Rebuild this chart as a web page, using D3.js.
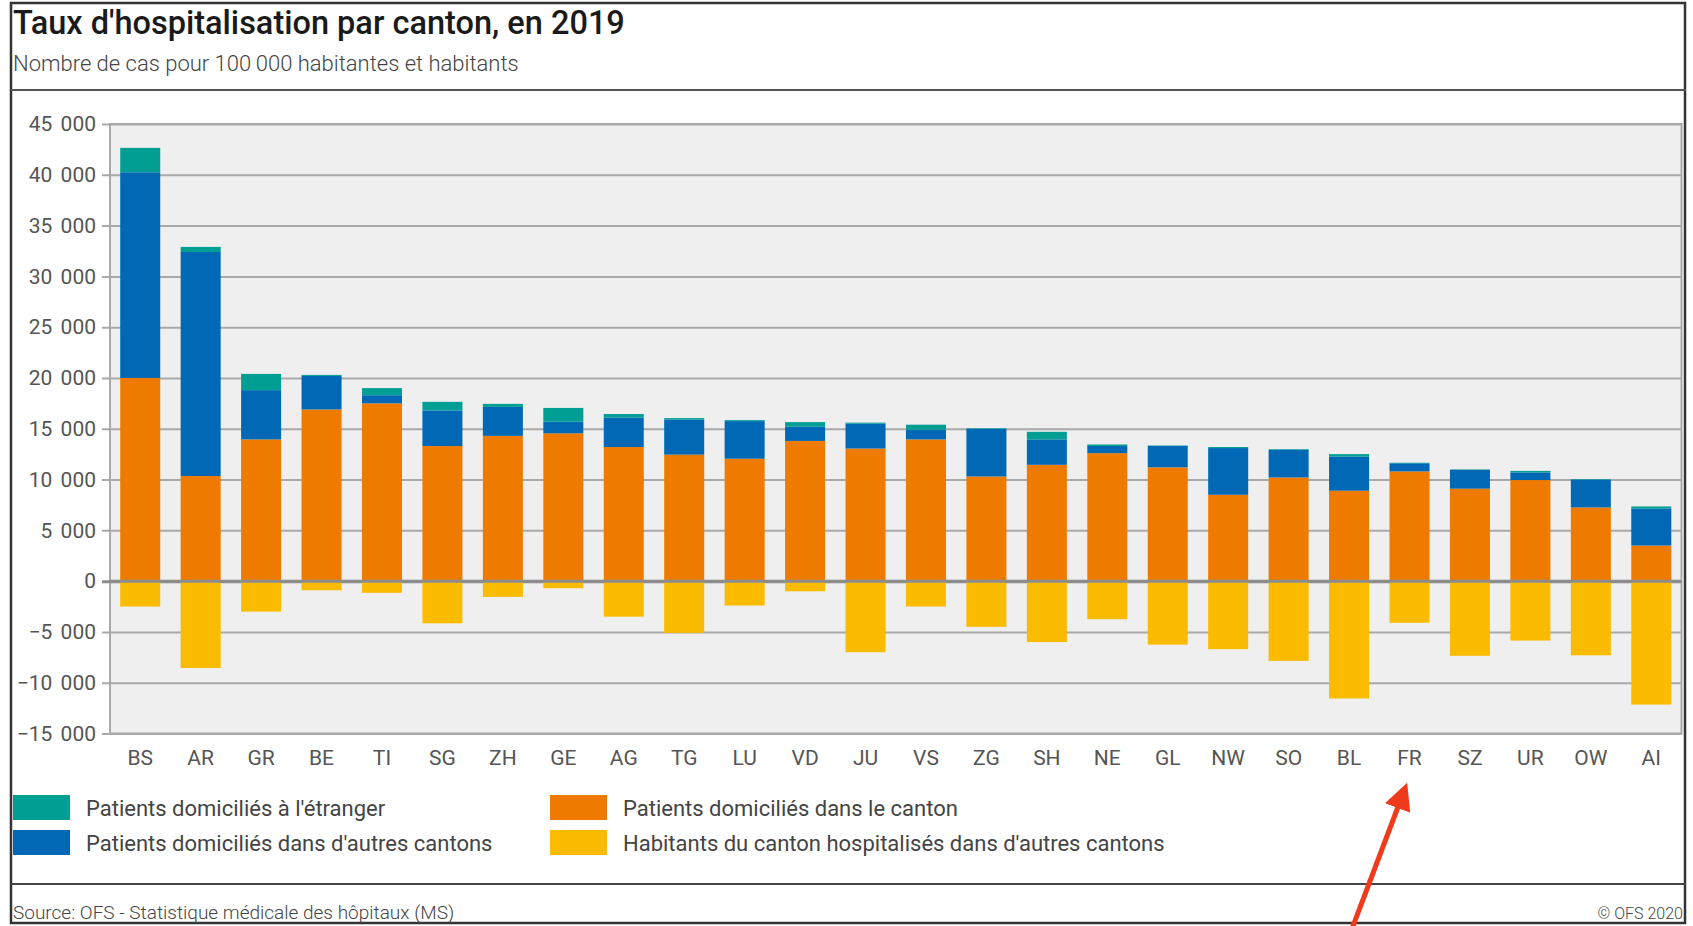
<!DOCTYPE html>
<html><head><meta charset="utf-8">
<script src="https://cdn.jsdelivr.net/npm/d3@7"></script>
<style>
html,body{margin:0;padding:0;background:#fff;}
svg{display:block;font-family:Roboto,"Noto Sans",sans-serif;}
</style></head>
<body><svg id="c" width="1693" height="926"></svg>
<script>
const cantons = ["BS","AR","GR","BE","TI","SG","ZH","GE","AG","TG","LU","VD","JU","VS","ZG","SH","NE","GL","NW","SO","BL","FR","SZ","UR","OW","AI"];
const dansCanton = [20000,10350,13950,16900,17500,13300,14300,14550,13200,12450,12050,13800,13050,13950,10300,11450,12600,11200,8500,10200,8900,10800,9100,9950,7250,3500];
const autresCantons = [20250,22050,4850,3300,800,3500,2850,1150,2900,3450,3700,1400,2450,950,4700,2500,700,2100,4600,2750,3350,800,1850,750,2750,3650];
const etranger = [2400,500,1600,100,700,850,300,1350,350,150,100,450,100,500,50,750,150,50,100,50,250,50,50,150,50,200];
const horsCanton = [-2500,-8550,-3000,-900,-1150,-4150,-1550,-700,-3500,-5100,-2400,-1000,-7000,-2500,-4500,-6000,-3750,-6250,-6700,-7850,-11550,-4100,-7350,-5850,-7300,-12150];
const yTicks = [-15000,-10000,-5000,0,5000,10000,15000,20000,25000,30000,35000,40000,45000];
const seriesKeys = ["dans","autres","etranger","hors"];
const seriesLabels = {
  etranger:"Patients domiciliés à l'étranger",
  autres:"Patients domiciliés dans d'autres cantons",
  dans:"Patients domiciliés dans le canton",
  hors:"Habitants du canton hospitalisés dans d'autres cantons"
};
const colors = {etranger:"#009e93", autres:"#0068b5", dans:"#ee7b00", hors:"#fbbb00"};

const rows = cantons.map((c,i)=>({canton:c, dans:dansCanton[i], autres:autresCantons[i], etranger:etranger[i], hors:horsCanton[i]}));

const svg = d3.select("#c");
const L = 110, R = 1681.5, T = 124, B = 733.5;

// outer frame
svg.append("rect").attr("x",11).attr("y",3).attr("width",1674).attr("height",920)
  .attr("fill","none").attr("stroke","#333").attr("stroke-width",2.5);

// title
svg.append("text").attr("x",13).attr("y",34).attr("fill","#1a1a1a")
  .style("font-size","32.5px").style("font-weight",500).text("Taux d'hospitalisation par canton, en 2019");
svg.append("text").attr("x",13).attr("y",71).attr("fill","#444")
  .style("font-size","22px").style("font-weight",300).text("Nombre de cas pour 100\u2009000 habitantes et habitants");
svg.append("line").attr("x1",11).attr("x2",1686).attr("y1",90).attr("y2",90).attr("stroke","#555").attr("stroke-width",2);

const x = d3.scaleBand().domain(cantons).range([L,R]).paddingInner(0.338).paddingOuter(0.169);
const y = d3.scaleLinear().domain([-15000,45000]).range([B,T]);

// plot background
svg.append("rect").attr("x",L).attr("y",T).attr("width",R-L).attr("height",B-T)
  .attr("fill","#efefef").attr("stroke","#a9a9a9").attr("stroke-width",2);

const fmt = v => v===0 ? "0" : (v<0?"\u2212":"") + d3.format(",")(Math.abs(v)).replace(/,/g," ");

// grid + y axis
const yAxis = d3.axisLeft(y).tickValues(yTicks).tickSize(-(R-L)).tickFormat(fmt).tickPadding(14);
const gy = svg.append("g").attr("transform",`translate(${L},0)`).call(yAxis);
gy.select(".domain").remove();
gy.selectAll(".tick line").attr("stroke",d=>d===0?"#8c8c8c":"#a9a9a9").attr("stroke-width",d=>d===0?3:2)
  .attr("x1",-8);
gy.selectAll(".tick text").attr("fill","#555").style("font-size","21px").style("font-family","Roboto")
  .style("word-spacing","3px");

// bars
const stack = d3.stack().keys(seriesKeys).offset(d3.stackOffsetDiverging);
const layers = stack(rows);
svg.append("g").selectAll("g").data(layers).join("g").attr("fill",d=>colors[d.key])
  .selectAll("rect").data(d=>d).join("rect")
  .attr("x",d=>x(d.data.canton)).attr("width",x.bandwidth())
  .attr("y",d=>y(Math.max(d[0],d[1]))).attr("height",d=>Math.abs(y(d[0])-y(d[1])));

// zero line on top
svg.append("line").attr("x1",L).attr("x2",R).attr("y1",y(0)).attr("y2",y(0)).attr("stroke","#8c8c8c").attr("stroke-width",3);

// x axis labels
const xAxis = d3.axisBottom(x).tickSize(0).tickPadding(17);
const gx = svg.append("g").attr("transform",`translate(0,${B})`).call(xAxis);
gx.select(".domain").remove();
gx.selectAll(".tick text").attr("fill","#555").style("font-size","21px").style("font-family","Roboto");

// legend
const legendItems = [
  {k:"etranger", x:13, y:795},
  {k:"autres", x:13, y:830},
  {k:"dans", x:550, y:795},
  {k:"hors", x:550, y:830}
];
const lg = svg.append("g");
legendItems.forEach(it=>{
  lg.append("rect").attr("x",it.x).attr("y",it.y).attr("width",57).attr("height",25).attr("fill",colors[it.k]);
  lg.append("text").attr("x",it.x+73).attr("y",it.y+13).attr("dy","0.35em").attr("fill","#444")
    .style("font-size","22px").text(seriesLabels[it.k]);
});

// footer
svg.append("line").attr("x1",11).attr("x2",1686).attr("y1",884).attr("y2",884).attr("stroke","#444").attr("stroke-width",2);
svg.append("text").attr("x",13).attr("y",919).attr("fill","#444").style("font-size","19px").style("font-weight",300)
  .text("Source: OFS - Statistique médicale des hôpitaux (MS)");
svg.append("text").attr("x",1683).attr("y",919).attr("text-anchor","end").attr("fill","#444").style("font-size","16px").style("font-weight",300)
  .text("\u00a9 OFS 2020");

// red annotation arrow pointing at FR
const defs = svg.append("defs");
defs.append("marker").attr("id","ah").attr("viewBox","0 0 10 10").attr("refX",2).attr("refY",5)
  .attr("markerWidth",5.4).attr("markerHeight",5.4).attr("orient","auto")
  .append("path").attr("d","M0,0 L10,5 L0,10 Z").attr("fill","#f03a1c");
const fx = x("FR") + x.bandwidth()/2;
svg.append("line").attr("x1",fx-58).attr("y1",930).attr("x2",fx-10).attr("y2",803)
  .attr("stroke","#f03a1c").attr("stroke-width",5).attr("marker-end","url(#ah)");
</script></body></html>
